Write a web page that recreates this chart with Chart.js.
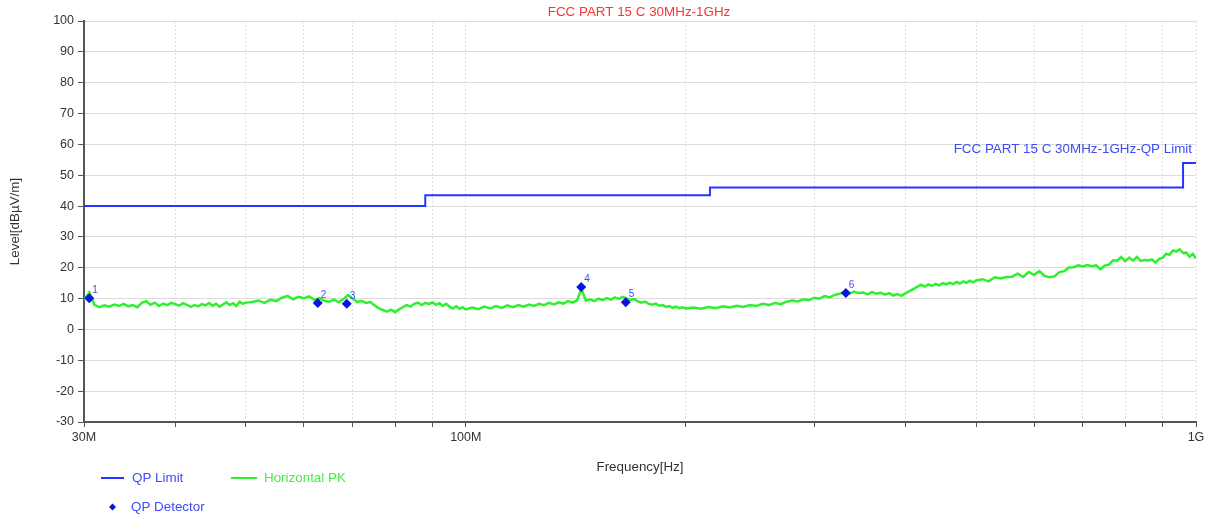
<!DOCTYPE html>
<html>
<head>
<meta charset="utf-8">
<title>FCC PART 15 C 30MHz-1GHz</title>
<script src="https://cdn.jsdelivr.net/npm/chart.js@4/dist/chart.umd.min.js"></script>
<style>
    html, body { margin: 0; padding: 0; background: #fff; }
    #wrap { width: 1213px; height: 517px; }
</style>
</head>
<body>
<div id="wrap"><canvas id="emiChart" width="1213" height="517"></canvas></div>
<script>
// --- Data (MHz / dBuV/m) ---
const titleText = 'FCC PART 15 C 30MHz-1GHz';
const limitText = 'FCC PART 15 C 30MHz-1GHz-QP Limit';

const yTicks = [-30, -20, -10, 0, 10, 20, 30, 40, 50, 60, 70, 80, 90, 100];
const xTicks = [30, 40, 50, 60, 70, 80, 90, 100, 200, 300, 400, 500, 600, 700, 800, 900, 1000];
const xTickLabels = { 30: '30M', 100: '100M', 1000: '1G' };

// QP limit (stepped)
const limitFreq = [30, 88, 88, 216, 216, 960, 960, 1000];
const limitLevel = [40, 40, 43.5, 43.5, 46, 46, 54, 54];

// QP detector readings
const qpFreq = [30.5, 62.7, 68.7, 143.9, 165.6, 331.5];
const qpLevel = [10.1, 8.6, 8.3, 13.8, 8.8, 11.8];
const qpNames = ['1', '2', '3', '4', '5', '6'];

// Horizontal PK trace
const pkFreq = [
    30, 30.5, 31, 31.5, 32, 32.5, 33, 33.5, 34, 34.5, 35, 35.5, 36, 36.5, 37, 37.5, 38, 38.5, 39, 39.5,
    40, 40.5, 41, 41.5, 42, 42.5, 43, 43.5, 44, 44.5, 45, 45.5, 46, 46.5, 47, 47.5, 48, 48.5, 49, 49.5, 50,
    51, 52, 53, 54, 55, 56, 57, 58, 59, 60, 61, 62, 63, 64, 65, 66, 67, 68, 69, 70,
    71, 72, 73, 74, 75, 76, 77, 78, 79, 80, 81, 82, 83, 84, 85, 86, 87, 88, 89, 90,
    91, 92, 93, 94, 95, 96, 97, 98, 99, 100,
    102, 104, 106, 108, 110, 112, 114, 116, 118, 120, 122, 124, 126, 128, 130, 132, 134, 136, 138, 140,
    142, 144, 146, 148, 150, 152, 154, 156, 158, 160, 162, 164, 166, 168, 170, 172, 174, 176, 178, 180,
    182, 184, 186, 188, 190, 192, 194, 196, 198, 200,
    205, 210, 215, 220, 225, 230, 235, 240, 245, 250, 255, 260, 265, 270, 275, 280, 285, 290, 295, 300,
    305, 310, 315, 320, 325, 330, 335, 340, 345, 350, 355, 360, 365, 370, 375, 380, 385, 390, 395, 400,
    405, 410, 415, 420, 425, 430, 435, 440, 445, 450, 455, 460, 465, 470, 475, 480, 485, 490, 495, 500,
    510, 520, 530, 540, 550, 560, 570, 580, 590, 600, 610, 620, 630, 640, 650, 660, 670, 680, 690, 700,
    710, 720, 730, 740, 750, 760, 770, 780, 790, 800, 810, 820, 830, 840, 850, 860, 870, 880, 890, 900,
    910, 920, 930, 940, 950, 960, 970, 980, 990, 1000
];
const pkLevel = [
    9.5, 12.0, 8.0, 7.2, 7.8, 7.4, 8.1, 7.6, 8.3, 7.5, 7.9, 7.2, 8.6, 9.2, 8.0, 8.7, 7.6, 8.4, 7.9, 8.6,
    8.2, 7.7, 8.5, 8.0, 7.3, 7.9, 7.5, 8.2, 7.8, 8.6, 7.7, 8.3, 7.4, 8.1, 8.8, 7.9, 8.5, 7.6, 9.0, 8.3, 8.7,
    8.9, 9.4, 8.6, 9.6, 9.2, 10.3, 10.9, 9.8, 10.6, 10.1, 10.7, 9.6, 10.2, 9.3, 9.0, 9.7, 8.8, 9.9, 11.2, 10.0,
    8.9, 9.3, 8.6, 8.9, 7.8, 6.9, 6.3, 5.8, 6.4, 5.6, 6.5, 7.2, 7.9, 7.4, 8.3, 8.7, 7.9, 8.6, 8.2, 8.8,
    8.0, 8.5, 7.6, 8.3, 7.4, 6.8, 7.5, 6.7, 7.2, 6.5,
    7.1, 6.6, 7.4, 6.8, 7.6, 7.0, 7.8, 7.2, 7.9, 7.4, 8.1, 7.6, 8.3, 7.9, 8.6, 8.1, 8.8, 8.4, 9.2, 8.7,
    9.4, 13.2, 9.3, 9.8, 9.2, 10.0, 9.5, 10.2, 9.7, 10.4, 9.9, 10.6, 10.1, 9.6, 9.9, 9.1, 8.7, 9.0, 8.3, 8.0,
    8.4, 7.7, 7.9, 7.3, 7.6, 7.0, 7.4, 6.9, 7.2, 6.8,
    7.1, 6.7, 7.3, 6.9, 7.5, 7.1, 7.7, 7.3, 7.9, 7.6, 8.3, 7.9, 8.6, 8.2, 9.0, 9.4, 9.1, 9.8, 9.5, 10.3,
    10.0, 10.8, 10.4, 11.2, 11.6, 12.1, 11.5, 12.3, 11.8, 12.0, 11.4, 12.1, 11.6, 11.9, 11.3, 11.8, 11.0, 11.5, 10.9, 11.7,
    12.4, 13.1, 13.8, 14.5, 13.9, 14.6, 14.1, 14.8, 14.3, 15.0, 14.6, 15.2, 14.7, 15.4, 14.9, 15.6, 15.1, 15.8, 15.3, 15.9,
    16.3, 15.6, 16.9, 16.5, 17.0, 17.1, 18.1, 17.0, 18.6, 17.7, 18.9, 17.4, 16.9, 17.2, 18.6, 18.9, 20.1, 20.2, 20.8, 20.4,
    20.9, 20.5, 20.8, 19.5, 20.7, 21.0, 22.4, 22.3, 23.5, 22.1, 23.3, 22.3, 23.5, 22.2, 22.5, 22.4, 22.7, 21.7, 22.9, 23.2,
    24.5, 24.2, 25.6, 25.3, 26.0, 24.8, 24.9, 23.6, 24.5, 23.0
];

// --- Colours / fonts ---
const BLUE = '#2336ff';
const BLUE_TEXT = '#3d4cf5';
const GREEN = '#2ef02e';
const GREEN_TEXT = '#45ee45';
const RED = '#ff3333';
const AXIS = '#555555';
const FONT = 'Arial, "Liberation Sans", sans-serif';
const TEXT_SIZE = '13.4px ';

const toXY = (xs, ys) => xs.map((x, i) => ({ x: x, y: ys[i] }));

// Texts, legend and marker numbers drawn straight on the canvas
const annotations = {
    id: 'annotations',
    afterDraw(chart) {
        const { ctx, chartArea, scales } = chart;
        ctx.save();
        ctx.textBaseline = 'middle';

        // title
        ctx.font = TEXT_SIZE + FONT;
        ctx.fillStyle = RED;
        ctx.textAlign = 'center';
        ctx.fillText(titleText, 639, 12);

        // limit label
        ctx.fillStyle = BLUE_TEXT;
        ctx.textAlign = 'right';
        ctx.fillText(limitText, 1192, 149);

        // axis titles
        ctx.fillStyle = '#333';
        ctx.textAlign = 'center';
        ctx.fillText('Frequency[Hz]', (chartArea.left + chartArea.right) / 2, 467);
        ctx.save();
        ctx.translate(15, (chartArea.top + chartArea.bottom) / 2);
        ctx.rotate(-Math.PI / 2);
        ctx.fillText('Level[dB\u00B5V/m]', 0, 0);
        ctx.restore();

        // legend
        ctx.textAlign = 'left';
        ctx.lineWidth = 2;
        ctx.strokeStyle = BLUE;
        ctx.beginPath(); ctx.moveTo(101, 478); ctx.lineTo(124, 478); ctx.stroke();
        ctx.fillStyle = BLUE_TEXT;
        ctx.fillText('QP Limit', 132, 478);

        ctx.strokeStyle = GREEN;
        ctx.beginPath(); ctx.moveTo(231, 478); ctx.lineTo(257, 478); ctx.stroke();
        ctx.fillStyle = GREEN_TEXT;
        ctx.fillText('Horizontal PK', 264, 478);

        ctx.fillStyle = '#0a14e0';
        ctx.beginPath();
        ctx.moveTo(112.5, 503.5); ctx.lineTo(116, 507); ctx.lineTo(112.5, 510.5); ctx.lineTo(109, 507);
        ctx.closePath(); ctx.fill();
        ctx.fillStyle = BLUE_TEXT;
        ctx.fillText('QP Detector', 131, 507);

        // marker numbers
        ctx.font = '10px ' + FONT;
        ctx.fillStyle = BLUE_TEXT;
        qpFreq.forEach((f, i) => {
            const px = scales.x.getPixelForValue(f);
            const py = scales.y.getPixelForValue(qpLevel[i]);
            ctx.fillText(qpNames[i], px + 3, py - 8);
        });
        ctx.restore();
    }
};

const ctx = document.getElementById('emiChart').getContext('2d');
new Chart(ctx, {
    type: 'scatter',
    data: {
        datasets: [
            {
                label: 'Horizontal PK',
                data: toXY(pkFreq, pkLevel),
                showLine: true,
                borderColor: GREEN,
                borderWidth: 2.5,
                pointRadius: 0,
                tension: 0,
                order: 3
            },
            {
                label: 'QP Limit',
                data: toXY(limitFreq, limitLevel),
                showLine: true,
                borderColor: BLUE,
                borderWidth: 2,
                pointRadius: 0,
                tension: 0,
                order: 2
            },
            {
                label: 'QP Detector',
                data: toXY(qpFreq, qpLevel),
                showLine: false,
                pointStyle: 'rectRot',
                pointRadius: 5,
                backgroundColor: '#0a14e0',
                borderColor: '#0a14e0',
                borderWidth: 0,
                order: 1
            }
        ]
    },
    options: {
        responsive: false,
        devicePixelRatio: 1,
        animation: false,
        layout: { padding: { top: 21, right: 17, left: 0, bottom: 0 } },
        font: { family: FONT },
        plugins: {
            legend: { display: false },
            title: { display: false },
            tooltip: { enabled: false }
        },
        scales: {
            x: {
                type: 'logarithmic',
                min: 30,
                max: 1000,
                afterBuildTicks: (scale) => { scale.ticks = xTicks.map(v => ({ value: v })); },
                afterFit: (scale) => { scale.height = 95; },
                ticks: {
                    autoSkip: false,
                    maxRotation: 0,
                    padding: 3,
                    color: '#333',
                    font: { size: 12.5, family: FONT },
                    callback: (v) => xTickLabels[v] || ''
                },
                grid: {
                    color: '#dedede',
                    lineWidth: 1,
                    tickColor: AXIS,
                    tickLength: 5
                },
                border: { color: AXIS, width: 2, dash: [2, 2] }
            },
            y: {
                min: -30,
                max: 100,
                afterBuildTicks: (scale) => { scale.ticks = yTicks.map(v => ({ value: v })); },
                afterFit: (scale) => { scale.width = 84; },
                ticks: {
                    padding: 4,
                    color: '#333',
                    font: { size: 12.5, family: FONT }
                },
                grid: {
                    color: '#dcdcdc',
                    lineWidth: 1,
                    tickColor: AXIS,
                    tickLength: 6
                },
                border: { color: AXIS, width: 2 }
            }
        }
    },
    plugins: [annotations]
});
</script>
</body>
</html>
